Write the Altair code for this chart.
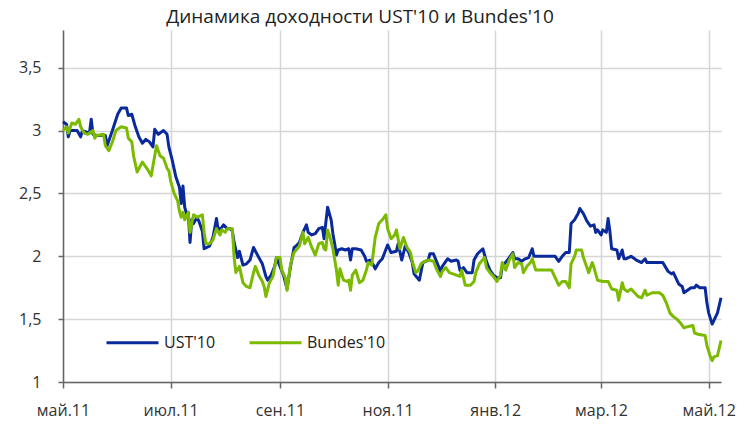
import altair as alt
import pandas as pd

# Day offsets from 2011-05-01 and yields (%)
ust_days = [0, 2, 3, 4, 8, 10, 11, 15, 16, 17, 20, 24, 25, 28, 31, 33, 36, 37, 39, 41,
            43, 45, 47, 49, 51, 52, 54, 57, 59, 60, 62, 64, 66, 67, 68, 69, 70, 71, 72, 73,
            74, 76, 77, 79, 80, 83, 85, 87, 88, 90, 91, 93, 95, 96, 97, 99, 100, 102, 104, 106,
            108, 111, 113, 115, 116, 118, 120, 121, 123, 125, 127, 129, 131, 132, 134, 136, 138, 139, 141, 143,
            145, 147, 148, 149, 150, 152, 153, 154, 155, 156, 158, 160, 162, 163, 164, 166, 169, 171, 172, 174,
            176, 177, 179, 181, 184, 186, 189, 190, 192, 194, 196, 198, 199, 202, 204, 207, 208, 210, 212, 214,
            215, 218, 220, 223, 224, 225, 227, 229, 232, 233, 235, 238, 240, 242, 244, 246, 248, 249, 252, 255,
            256, 258, 260, 262, 264, 266, 267, 270, 274, 279, 281, 283, 285, 287, 288, 290, 292, 293, 295, 297,
            299, 301, 302, 303, 305, 306, 308, 309, 310, 311, 314, 315, 317, 318, 319, 322, 325, 328, 330, 331,
            334, 340, 343, 345, 346, 349, 351, 352, 354, 356, 358, 359, 361, 364, 365, 366, 368, 369, 371, 373]
ust_vals = [3.07, 3.05, 2.95, 3.00, 3.00, 2.95, 3.00, 2.98, 3.09, 2.97, 2.96, 2.96, 2.88, 3.00, 3.13, 3.18, 3.18, 3.12, 3.13, 3.03,
            2.95, 2.90, 2.93, 2.91, 2.87, 3.01, 2.97, 3.00, 2.97, 2.87, 2.76, 2.63, 2.55, 2.42, 2.56, 2.39, 2.34, 2.35, 2.11, 2.29,
            2.26, 2.31, 2.28, 2.20, 2.06, 2.08, 2.15, 2.30, 2.21, 2.23, 2.25, 2.22, 2.22, 2.20, 2.11, 1.99, 2.04, 1.93, 1.94, 1.97,
            2.07, 1.99, 1.94, 1.84, 1.81, 1.85, 1.92, 1.99, 1.92, 1.85, 1.74, 1.92, 2.07, 2.08, 2.11, 2.19, 2.25, 2.19, 2.17, 2.18,
            2.22, 2.23, 2.14, 2.27, 2.39, 2.29, 2.18, 2.10, 2.01, 2.05, 2.06, 2.05, 2.06, 1.97, 2.06, 2.06, 2.05, 2.00, 1.96, 1.97,
            1.93, 1.90, 1.95, 1.98, 2.09, 2.03, 2.04, 2.10, 1.97, 2.08, 2.03, 1.95, 1.86, 1.81, 1.95, 1.97, 2.02, 2.02, 1.95, 1.88,
            1.92, 1.98, 1.96, 1.97, 1.96, 1.89, 1.91, 1.87, 1.87, 1.97, 2.02, 2.06, 1.96, 1.89, 1.85, 1.83, 1.83, 1.92, 1.97, 2.03,
            1.98, 1.98, 1.96, 1.98, 1.99, 2.06, 2.00, 2.00, 2.00, 2.00, 1.96, 2.00, 2.03, 2.03, 2.26, 2.29, 2.34, 2.38, 2.34, 2.28,
            2.24, 2.25, 2.19, 2.21, 2.17, 2.21, 2.19, 2.30, 2.20, 2.06, 2.05, 1.98, 2.05, 1.98, 1.98, 2.00, 1.97, 1.95, 1.98, 1.95,
            1.95, 1.95, 1.88, 1.86, 1.87, 1.78, 1.76, 1.71, 1.73, 1.75, 1.75, 1.77, 1.75, 1.75, 1.63, 1.55, 1.46, 1.49, 1.55, 1.67]

bund_days = [0, 2, 3, 5, 7, 9, 10, 12, 14, 17, 18, 19, 23, 24, 26, 28, 30, 33, 36, 37,
             39, 40, 42, 45, 48, 50, 53, 55, 57, 59, 60, 61, 63, 65, 66, 67, 68, 69, 71, 72,
             74, 76, 79, 80, 81, 83, 85, 87, 89, 90, 92, 93, 95, 96, 97, 98, 100, 102, 104, 106,
             108, 109, 111, 113, 114, 115, 117, 119, 121, 123, 124, 126, 127, 129, 131, 134, 136, 137, 139, 141,
             143, 145, 147, 148, 149, 150, 151, 153, 155, 156, 157, 159, 161, 162, 163, 164, 166, 168, 170, 172,
             173, 175, 177, 179, 181, 183, 184, 186, 188, 189, 191, 193, 195, 197, 198, 200, 201, 203, 205, 207,
             210, 212, 214, 215, 217, 219, 223, 225, 226, 228, 231, 233, 234, 236, 239, 240, 242, 244, 246, 248,
             249, 251, 253, 255, 256, 258, 260, 261, 263, 265, 266, 268, 271, 277, 279, 281, 283, 285, 287, 288,
             290, 291, 294, 295, 297, 298, 300, 301, 303, 306, 309, 311, 314, 315, 317, 318, 320, 322, 324, 326,
             328, 330, 331, 334, 338, 340, 342, 344, 346, 348, 350, 352, 354, 357, 358, 360, 364, 365, 367, 368,
             369, 371, 373]
bund_vals = [3.00, 3.03, 2.98, 3.06, 3.05, 3.09, 3.03, 2.98, 2.97, 3.00, 2.94, 2.96, 2.97, 2.88, 2.84, 2.91, 3.00, 3.03, 3.02, 2.94,
             2.91, 2.80, 2.67, 2.75, 2.69, 2.64, 2.88, 2.80, 2.78, 2.70, 2.68, 2.60, 2.50, 2.44, 2.36, 2.31, 2.35, 2.29, 2.35, 2.19,
             2.33, 2.31, 2.33, 2.19, 2.10, 2.10, 2.13, 2.22, 2.17, 2.21, 2.19, 2.22, 2.22, 2.22, 1.99, 1.87, 1.92, 1.79, 1.76, 1.75,
             1.87, 1.92, 1.85, 1.80, 1.76, 1.68, 1.79, 1.84, 1.99, 1.99, 1.89, 1.83, 1.73, 1.94, 2.03, 2.08, 2.19, 2.10, 2.15, 2.07,
             2.01, 2.10, 2.11, 2.06, 2.05, 2.21, 2.17, 2.06, 1.89, 1.77, 1.90, 1.81, 1.80, 1.81, 1.73, 1.85, 1.89, 1.79, 1.81, 1.89,
             1.95, 1.93, 2.15, 2.26, 2.29, 2.33, 2.22, 2.14, 2.17, 2.21, 2.06, 2.15, 2.07, 2.03, 1.96, 1.87, 1.88, 1.94, 1.96, 1.97,
             1.96, 1.89, 1.84, 1.88, 1.91, 1.87, 1.85, 1.84, 1.89, 1.77, 1.77, 1.80, 1.87, 1.94, 1.99, 1.91, 1.87, 1.84, 1.80, 1.85,
             1.95, 1.89, 1.97, 2.02, 1.91, 1.95, 1.94, 1.87, 1.92, 1.95, 1.98, 1.89, 1.89, 1.89, 1.83, 1.77, 1.80, 1.80, 1.75, 1.94,
             2.00, 2.05, 2.05, 1.99, 1.91, 1.87, 1.95, 1.91, 1.81, 1.80, 1.80, 1.74, 1.73, 1.65, 1.79, 1.74, 1.72, 1.74, 1.71, 1.68,
             1.67, 1.73, 1.69, 1.71, 1.71, 1.69, 1.63, 1.55, 1.52, 1.50, 1.47, 1.43, 1.44, 1.45, 1.39, 1.38, 1.37, 1.29, 1.20, 1.17,
             1.20, 1.21, 1.33]

series_names = ["UST'10", "Bundes'10"]
series_colors = ["#0a2a9c", "#7cba00"]
month_names = ["янв", "фев", "мар", "апр", "май", "июн", "июл", "авг", "сен", "окт", "ноя", "дек"]
y_ticks = [1, 1.5, 2, 2.5, 3, 3.5]

start = pd.Timestamp("2011-05-01")


def to_dates(days):
    return [(start + pd.Timedelta(days=d)).strftime("%Y-%m-%d") for d in days]


df = pd.concat([
    pd.DataFrame({"date": to_dates(ust_days), "value": ust_vals, "series": series_names[0]}),
    pd.DataFrame({"date": to_dates(bund_days), "value": bund_vals, "series": series_names[1]}),
], ignore_index=True)

tick_dates = [alt.DateTime(year=y, month=m, date=1, utc=True)
              for y, m in [(2011, 5), (2011, 7), (2011, 9), (2011, 11), (2012, 1), (2012, 3), (2012, 5)]]

month_js = "[" + ",".join("'" + m + "'" for m in month_names) + "]"
font = "Open Sans"

chart = alt.Chart(df).mark_line(strokeWidth=3, strokeJoin="round").encode(
    x=alt.X(
        "date:T",
        scale=alt.Scale(type="utc",
                        domain=[alt.DateTime(year=2011, month=5, date=1, utc=True),
                                alt.DateTime(year=2012, month=5, date=8, utc=True)]),
        axis=alt.Axis(values=tick_dates,
                      labelExpr=month_js + "[utcmonth(datum.value)] + '.' + utcFormat(datum.value, '%y')",
                      title=None, tickSize=6, labelPadding=14, labelFontSize=16,
                      domainColor="#666666", tickColor="#666666", domainWidth=1.5, tickWidth=1.5,
                      gridColor="#d6d6d6", gridWidth=1.5, labelFlush=False),
    ),
    y=alt.Y(
        "value:Q",
        scale=alt.Scale(domain=[1, 3.8], nice=False, zero=False),
        axis=alt.Axis(values=y_ticks,
                      labelExpr="replace(toString(datum.value), '.', ',')",
                      title=None, tickSize=5, labelPadding=17, labelFontSize=16,
                      domainColor="#666666", tickColor="#666666", domainWidth=1.5, tickWidth=1.5,
                      gridColor="#d6d6d6", gridWidth=1.5),
    ),
    color=alt.Color(
        "series:N",
        scale=alt.Scale(domain=series_names, range=series_colors),
        sort=series_names,
        legend=alt.Legend(title=None, orient="none", legendX=42, legendY=285, direction="horizontal",
                          symbolType="stroke", symbolSize=2700, symbolStrokeWidth=3,
                          labelFontSize=16, labelOffset=4, columnPadding=27, labelColor="#222222"),
    ),
).properties(
    width=658,
    height=352,
    title=alt.TitleParams("Динамика доходности UST'10 и Bundes'10", fontSize=19, fontWeight="normal",
                          color="#222222", anchor="middle", dx=-32, offset=3),
    autosize=alt.AutoSizeParams(type="none"),
    padding={"left": 55, "top": 22, "right": 24, "bottom": 37},
).configure(
    font=font,
).configure_axis(
    labelFont=font, labelColor="#333333",
).configure_view(
    stroke=None,
)

chart.save("out.html", embed_options={"renderer": "svg", "actions": False})
